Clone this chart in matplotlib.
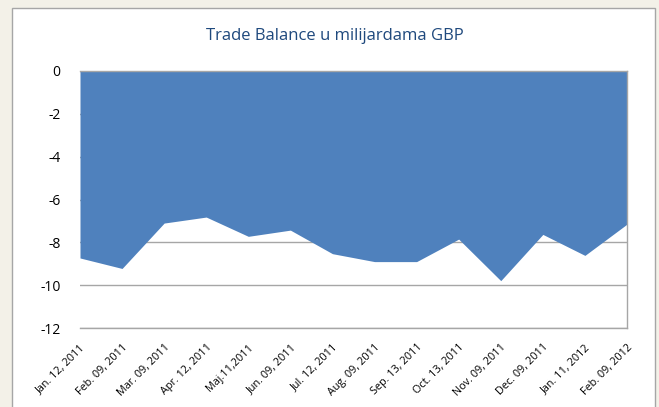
import matplotlib
matplotlib.use("Agg")
import matplotlib.pyplot as plt
from matplotlib.patches import Rectangle

categories = ["Jan. 12, 2011", "Feb. 09, 2011", "Mar. 09, 2011", "Apr. 12, 2011",
              "Maj.11,2011", "Jun. 09, 2011", "Jul. 12, 2011", "Aug. 09, 2011",
              "Sep. 13, 2011", "Oct. 13, 2011", "Nov. 09, 2011", "Dec. 09, 2011",
              "Jan. 11, 2012", "Feb. 09, 2012"]
values = [-8.73, -9.22, -7.10, -6.82, -7.72, -7.43, -8.53, -8.90, -8.90,
          -7.85, -9.79, -7.63, -8.61, -7.15]
yticks = [0, -2, -4, -6, -8, -10, -12]
title = "Trade Balance u milijardama GBP"

plt.rcParams['font.family'] = ['Open Sans', 'DejaVu Sans']

W, H = 659, 407
fig = plt.figure(figsize=(W / 100, H / 100), dpi=100)
fig.patch.set_facecolor("#f3f1e8")

# background layer with white chart box
bg = fig.add_axes([0, 0, 1, 1], zorder=0)
bg.set_xlim(0, W)
bg.set_ylim(H, 0)
bg.axis("off")
bg.add_patch(Rectangle((12, 8), 655 - 12, H, facecolor="white",
                       edgecolor="#a6a6a6", linewidth=1.0))

left, right, top, bottom = 80, 627, 71, 328
ax = fig.add_axes([left / W, 1 - bottom / H, (right - left) / W, (bottom - top) / H],
                  zorder=1)
ax.set_facecolor("none")

x = list(range(len(categories)))
ax.fill_between(x, values, 0, color="#4f81bd", linewidth=0, zorder=2)

ax.set_xlim(0, len(categories) - 1)
ax.set_ylim(-12, 0)
ax.set_yticks(yticks)
ax.set_yticklabels([str(v) for v in yticks], fontsize=10)
ax.yaxis.grid(True, color="#a6a6a6", linewidth=1.0, zorder=1)
ax.set_axisbelow(True)
ax.tick_params(axis="y", length=0, pad=14)
ax.set_xticks(x)
ax.set_xticklabels(categories, rotation=45, ha="right", rotation_mode="anchor",
                   fontsize=7.8)
ax.tick_params(axis="x", length=0, pad=10)

ax.spines["left"].set_visible(False)
for s in ["top", "right", "bottom"]:
    ax.spines[s].set_color("#a6a6a6")
    ax.spines[s].set_linewidth(1.0)
    ax.spines[s].set_zorder(3)

bg.text(335, 36, title, ha="center", va="center",
        fontsize=12, color="#1f497d")

fig.savefig("out.png", dpi=100, facecolor=fig.get_facecolor())
